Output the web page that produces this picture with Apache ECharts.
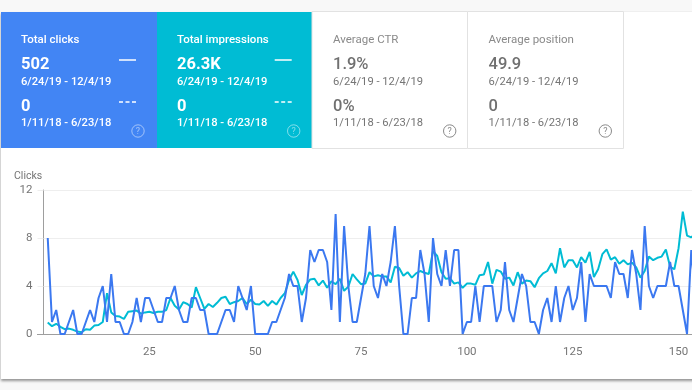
<!DOCTYPE html>
<html><head><meta charset="utf-8">
<style>html,body{margin:0;padding:0;background:#f8f8f8;overflow:hidden}#c{width:692px;height:390px}</style>
<script src="https://cdn.jsdelivr.net/npm/echarts@6/dist/echarts.min.js"></script>
</head><body><div id="c"></div>
<script>
const clicks=[8,1,2,0,0,1,2,0,0,1,2,1,3,4,1,5,1,1,0,0,1,3,1,3,3,2,1,1,3,3,4,2,1,1,3,3,2,2,0,0,0,1,2,2,1,4,3,2,4,0,0,0,0,1,1,2,3,5,4,4,1,3,7,6,7,7,6,2,10,1,9,4,1,1,3,5,9,4,3,5,4,6,9,4,0,0,3,3,7,5,1,8,5,4,7,4,7,7,0,1,1,4,1,4,4,4,1,2,6,2,1,3,5,4,1,1,0,2,3,1,4,1,3,4,2,3,6,1,5,4,4,4,4,3,6,5,5,3,7,5,2,9,4,3,4,4,4,6,4,4,2,0,7,3];
const impressions=[0.95,0.65,0.85,0.6,0.4,0.45,0.35,0.2,0.15,0.4,0.35,0.7,0.75,1,3.4,1.8,1.5,1.45,1.25,1.85,1.9,1.95,1.7,1.8,1.85,1.75,1.85,1.85,2,3,2.35,2.05,2.65,2.5,2.2,3.9,3,2.1,2.5,2.25,2.6,3,3.1,2.5,2.65,2.75,3,2.5,2.85,2.5,2.45,2.75,2.35,2.75,2.45,3,3.4,4.5,5.2,4.5,3.25,4.1,4.55,4.6,4.05,4.45,3.85,4.4,4.15,4.6,3.6,3.95,5,4.55,4.15,4.2,5.15,4.8,4.9,4.8,4.8,4.3,5.6,5.5,4.85,5.15,4.7,5.05,5.25,5.1,5,6.9,6.5,5.15,4.6,4.65,4.2,4.3,3.85,4.2,4.2,4.1,4.9,4.95,6,4.2,5.35,5.2,4.6,4.7,4.05,5.15,4.2,4.45,4.4,3.9,4.65,5.05,5.25,5.9,5.05,7.15,5.55,6.15,6.15,5.55,6.4,5.95,6.85,4.75,5.4,6.65,7.05,6.2,6.4,5.85,6.15,5.8,5.95,5.55,4.7,5.25,6.45,6.15,6.35,6.45,7.05,5.6,5.4,7.15,10.2,8.2,8.05,8.4];
const cardTitles=['Total clicks','Total impressions','Average CTR','Average position'];
const currentValues=['502','26.3K','1.9%','49.9'];
const previousValues=['0','0','0%','0'];
const currentRange='6/24/19 - 12/4/19';
const previousRange='1/11/18 - 6/23/18';
const axisTitle='Clicks';

const BLUE='#4285f4',TEAL='#00bcd4',FONT='Roboto, sans-serif';
const cardX=[1,157,312,467.5],cardW=[156,155,155.5,156],textX=[21,177,333,488.5],iconX=[138,293.7,449.7,605.3];
const g=[];
g.push({type:'rect',z:0,shape:{x:1,y:12,width:700,height:367},style:{fill:'#fff',shadowBlur:2.5,shadowColor:'rgba(0,0,0,0.4)',shadowOffsetY:1.5}});
g.push({type:'rect',z:0,shape:{x:623,y:11,width:80,height:1},style:{fill:'#efefef'}});
cardTitles.forEach((t,i)=>{
  const x=cardX[i],on=i<2,tx=textX[i];
  const col=on?'#fff':'#757575';
  const fw=on?500:400;
  g.push({type:'rect',z:1,shape:{x:x,y:on?12:11.5,width:cardW[i],height:on?136:137},
    style:{fill:on?(i?TEAL:BLUE):'#fff',stroke:on?null:'#e2e2e2',lineWidth:on?0:1}});
  const txt=(s,y,size,w,c)=>g.push({type:'text',z:2,x:tx,y:y,style:{text:s,fill:c||col,font:`${w} ${size}px ${FONT}`,verticalAlign:'middle',align:'left'}});
  txt(t,40.5,11.5,on?500:400,on?'#fff':'#8a8a8a');
  txt(currentValues[i],65,16.5,on?700:500,on?'#fff':'#707070');
  txt(currentRange,82,11.2,fw);
  txt(previousValues[i],107,16.5,on?700:500,on?'#fff':'#707070');
  txt(previousRange,123,11.2,fw);
  if(on){
    const lx=iconX[i]-19;
    g.push({type:'line',z:2,shape:{x1:lx,y1:60,x2:lx+17,y2:60},style:{stroke:'#fff',lineWidth:1.5}});
    g.push({type:'line',z:2,shape:{x1:lx,y1:102,x2:lx+17,y2:102},style:{stroke:'#fff',lineWidth:1.5,lineDash:[4,2.5]}});
  }
  const ic=on?'rgba(255,255,255,0.5)':'#8a8a8a';
  g.push({type:'circle',z:2,shape:{cx:iconX[i],cy:131,r:6.2},style:{fill:'none',stroke:ic,lineWidth:1}});
  g.push({type:'text',z:2,x:iconX[i],y:131.5,style:{text:'?',fill:ic,font:`400 9px ${FONT}`,align:'center',verticalAlign:'middle'}});
});
g.push({type:'text',z:2,x:14,y:176,style:{text:axisTitle,fill:'#757575',font:`400 10.5px ${FONT}`,verticalAlign:'middle'}});
g.push({type:'line',z:2,shape:{x1:37,y1:334.5,x2:44,y2:334.5},style:{stroke:'#9e9e9e',lineWidth:1}});

const pts=a=>a.map((v,i)=>[i+1,v]);
const chart=echarts.init(document.getElementById('c'),null,{renderer:'canvas'});
chart.setOption({
  animation:false,
  backgroundColor:'#f8f8f8',
  graphic:g,
  grid:{left:43.5,top:190,width:652,height:144,outerBoundsMode:'none',containLabel:false},
  xAxis:{type:'value',min:0,max:154,interval:25,
    axisLine:{show:true,onZero:false,lineStyle:{color:'#9e9e9e',width:1}},axisTick:{show:false},splitLine:{show:false},
    axisLabel:{color:'#757575',fontFamily:'Roboto',fontSize:11.5,margin:12,
      formatter:v=>v===0||v>150?'':String(v)}},
  yAxis:{type:'value',min:0,max:12,interval:4,
    axisLine:{show:true,lineStyle:{color:'#9e9e9e',width:1}},axisTick:{show:true,length:6,lineStyle:{color:'#eeeeee'}},
    splitLine:{lineStyle:{color:'#eeeeee',width:1}},
    axisLabel:{color:'#757575',fontFamily:'Roboto',fontSize:11.5,margin:11,padding:[2,0,0,0]}},
  series:[
    {name:'Impressions',type:'line',data:pts(impressions),symbol:'none',smooth:false,z:3,lineStyle:{color:TEAL,width:2}},
    {name:'Clicks',type:'line',data:pts(clicks),symbol:'none',smooth:false,z:4,lineStyle:{color:'#3b78f0',width:2}}
  ]
});
</script></body></html>
